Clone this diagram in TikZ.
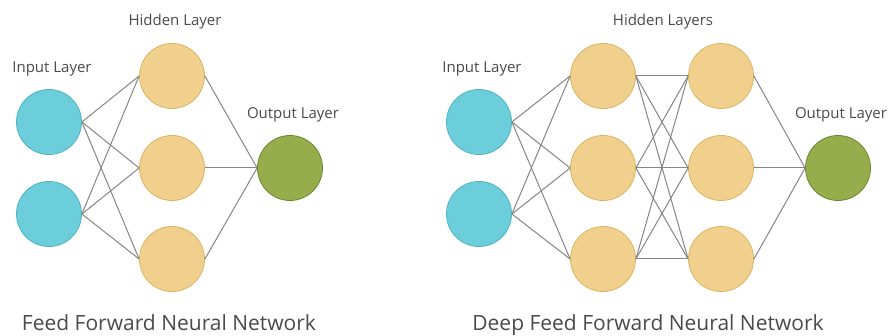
\documentclass[tikz,border=0pt]{standalone}
\usepackage{fontspec}
\setmainfont{Open Sans}
\usepackage{tikz}
\usepackage{xcolor}
\usetikzlibrary{positioning}
\definecolor{inblue}{HTML}{6CCEDB}
\definecolor{inblueb}{HTML}{52B3C2}
\definecolor{hidyel}{HTML}{F1D08D}
\definecolor{hidyelb}{HTML}{DDB463}
\definecolor{outgrn}{HTML}{97AD4B}
\definecolor{outgrnb}{HTML}{6E8436}
\definecolor{wire}{HTML}{858585}
\definecolor{txtgray}{HTML}{4A4A4A}
\tikzset{inn/.style={circle, minimum size=65pt, inner sep=0pt, draw=inblueb, fill=inblue, line width=0.8pt}}
\tikzset{hid/.style={circle, minimum size=65pt, inner sep=0pt, draw=hidyelb, fill=hidyel, line width=0.8pt}}
\tikzset{outn/.style={circle, minimum size=65pt, inner sep=0pt, draw=outgrnb, fill=outgrn, line width=0.8pt}}
\tikzset{lbl/.style={text=txtgray, font=\fontsize{15}{18}\selectfont, inner sep=0pt}}
\tikzset{ttl/.style={text=txtgray, font=\fontsize{21}{25}\selectfont, inner sep=0pt, anchor=base}}
\tikzset{wr/.style={draw=wire, line width=1pt}}

\begin{document}
\begin{tikzpicture}[x=1pt, y=-1pt]
                        \useasboundingbox (0, 0) rectangle (890, 336);

                        % feed forward
                        \node[inn] (a1) at (49, 122) {};
                        \node[inn] (a2) at (49, 214) {};
                        \node[hid] (b1) at (172, 76) {};
                        \node[hid] (b2) at (172, 168) {};
                        \node[hid] (b3) at (172, 259) {};
                        \node[outn] (c1) at (290, 168) {};

                        \draw[wr]
                        (a1.east) edge (b1.west)
                        (a1.east) edge (b2.west)
                        (a1.east) edge (b3.west)
                        (a2.east) edge (b1.west)
                        (a2.east) edge (b2.west)
                        (a2.east) edge (b3.west)
                        (b1.east) edge (c1.west)
                        (b2.east) edge (c1.west)
                        (b3.east) edge (c1.west);

                        \node[lbl] (ain) at (52, 69) {Input Layer};
                        \node[lbl] (bhid) at (175, 22) {Hidden Layer};
                        \node[lbl] (cout) at (293, 115) {Output Layer};
                        \node[ttl] (tff) at (169, 330) {Feed Forward Neural Network};

                        % deep feed forward
                        \node[inn] (d1) at (479, 122) {};
                        \node[inn] (d2) at (479, 214) {};
                        \node[hid] (e1) at (603, 76) {};
                        \node[hid] (e2) at (603, 168) {};
                        \node[hid] (e3) at (603, 259) {};
                        \node[hid] (f1) at (721, 76) {};
                        \node[hid] (f2) at (721, 168) {};
                        \node[hid] (f3) at (721, 259) {};
                        \node[outn] (g1) at (838, 168) {};

                        \draw[wr]
                        (d1.east) edge (e1.west)
                        (d1.east) edge (e2.west)
                        (d1.east) edge (e3.west)
                        (d2.east) edge (e1.west)
                        (d2.east) edge (e2.west)
                        (d2.east) edge (e3.west)
                        (e1.east) edge (f1.west)
                        (e1.east) edge (f2.west)
                        (e1.east) edge (f3.west)
                        (e2.east) edge (f1.west)
                        (e2.east) edge (f2.west)
                        (e2.east) edge (f3.west)
                        (e3.east) edge (f1.west)
                        (e3.east) edge (f2.west)
                        (e3.east) edge (f3.west)
                        (f1.east) edge (g1.west)
                        (f2.east) edge (g1.west)
                        (f3.east) edge (g1.west);

                        \node[lbl] (din) at (482, 69) {Input Layer};
                        \node[lbl] (ehid) at (663, 22) {Hidden Layers};
                        \node[lbl] (gout) at (841, 115) {Output Layer};
                        \node[ttl] (tdff) at (648, 330) {Deep Feed Forward Neural Network};
                    \end{tikzpicture}
\end{document}
